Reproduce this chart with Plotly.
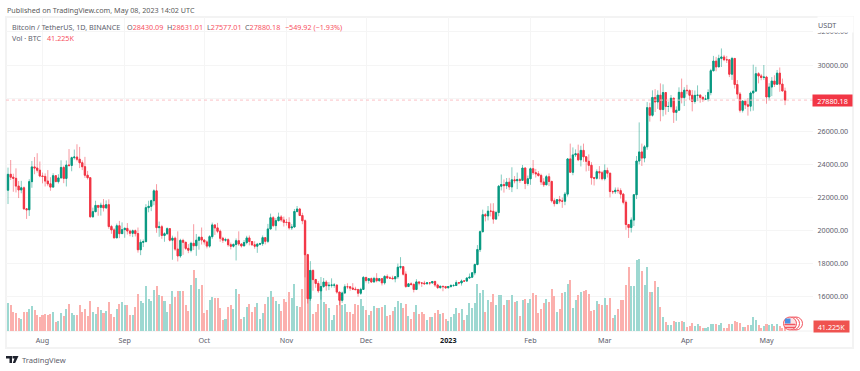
import pandas as pd
import plotly.graph_objects as go

W, H = 860, 371
DATES = pd.date_range("2022-07-19", "2023-05-08", freq="D")

OPEN = [22433,23396,23223,23152,22684,22451,22579,21310,21254,22952,23843,23774,23643,
23293,23268,22988,22818,22622,23312,22954,23175,23810,23149,23954,23934,24403,24441,24305,24094,23854,23342,23191,20834,21140,21515,21399,21529,21368,21559,20241,20037,19555,20285,19811,
20050,20127,19969,19832,19986,19812,18837,19290,19329,21381,21460,21800,22395,20173,20226,19701,19803,20113,19417,19537,18875,18461,19401,19289,18920,18807,19227,19079,19412,19591,
19422,19310,19056,19629,20337,20158,19955,19531,19417,19446,19141,19051,19157,19382,19185,19067,19268,19550,19334,19139,19053,19172,19208,19567,19345,20095,20771,20295,20595,20818,20635,
20495,20485,20159,20209,21148,21299,20905,20591,18541,15880,17586,17034,16799,16353,16618,16884,16662,16692,16700,16700,16280,15781,16226,16603,16599,16522,16458,16428,16212,16442,
17163,16978,17092,16886,17106,16967,17089,16836,17224,17128,17127,17085,17206,17782,17813,17364,16618,16776,16739,16438,16895,16824,16821,16778,16836,16832,16919,16706,16547,16633,16607,
16542,16616,16672,16675,16850,16831,16950,16943,17127,17178,17440,17943,18846,19930,20955,20880,21169,21161,20688,21086,22676,22777,22710,22917,22633,23060,23009,23074,23031,23774,22840,
23125,23732,23491,23431,23326,22932,22762,23249,22963,21797,21625,21862,21783,21773,22199,24324,23518,24569,24631,24271,24841,24452,24182,23940,23186,23158,23555,23492,
23130,23626,23465,22354,22346,22430,22409,22197,21705,20363,20187,20632,22163,24197,24746,24375,25055,27423,26965,28038,27767,28175,27307,28333,27493,27494,27994,27139,27268,28348,28033,
28478,28452,28171,27800,28165,28175,28044,27925,27947,28333,29653,30235,29884,30399,30485,30318,30315,29445,30397,28822,28245,27263,27817,27591,27514,28307,28422,29473,29340,29248,
29268,28068,28669,29026,28838,29507,28848,28430.09]

CLOSE = [23396,23223,23152,22684,22451,22579,21310,21254,22952,23843,23774,23643,23293,
23268,22988,22818,22622,23312,22954,23175,23810,23149,23954,23934,24403,24441,24305,24094,23854,23342,23191,20834,21140,21515,21399,21529,21368,21559,20241,20037,19555,20285,19811,20050,
20127,19969,19832,19986,19812,18837,19290,19329,21381,21460,21800,22395,20173,20226,19701,19803,20113,19417,19537,18875,18461,19401,19289,18920,18807,19227,19079,19412,19591,19422,
19310,19056,19629,20337,20158,19955,19531,19417,19446,19141,19051,19157,19382,19185,19067,19268,19550,19334,19139,19053,19172,19208,19567,19345,20095,20771,20295,20595,20818,20635,20495,
20485,20159,20209,21148,21299,20905,20591,18541,15880,17586,17034,16799,16353,16618,16884,16662,16692,16700,16700,16280,15781,16226,16603,16599,16522,16458,16428,16212,16442,17163,
16978,17092,16886,17106,16967,17089,16836,17224,17128,17127,17085,17206,17782,17813,17364,16618,16776,16739,16438,16895,16824,16821,16778,16836,16832,16919,16706,16547,16633,16607,16542,
16616,16672,16675,16850,16831,16950,16943,17127,17178,17440,17943,18846,19930,20955,20880,21169,21161,20688,21086,22676,22777,22710,22917,22633,23060,23009,23074,23031,23774,22840,23125,
23732,23491,23431,23326,22932,22762,23249,22963,21797,21625,21862,21783,21773,22199,24324,23518,24569,24631,24271,24841,24452,24182,23940,23186,23158,23555,23492,23130,
23626,23465,22354,22346,22430,22409,22197,21705,20363,20187,20632,22163,24197,24746,24375,25055,27423,26965,28038,27767,28175,27307,28333,27493,27494,27994,27139,27268,28348,28033,28478,
28452,28171,27800,28165,28175,28044,27925,27947,28333,29653,30235,29884,30399,30485,30318,30315,29445,30397,28822,28245,27263,27817,27591,27514,28307,28422,29473,29340,29248,29268,
28068,28669,29026,28838,29507,28848,28430.09,27880.18]

HIGH = [23800,24260,23430,23756,22990,23000,22660,21360,23100,24200,24440,24670,24170,
23500,23450,23650,23220,23460,23350,23400,24240,23920,24230,24920,24460,24890,25210,25050,24240,24450,23600,23200,21380,21800,21520,21680,21900,21820,21880,20340,20140,20420,20580,20490,
20200,20450,20050,20060,20060,20180,19460,19460,21590,21800,21860,22490,22800,20540,20340,19890,20190,20100,19690,19630,19950,19500,19500,19310,19180,19320,20380,19790,19650,20180,
19480,19400,19720,20480,20370,20460,20060,19620,19560,19530,19270,19220,19520,19950,19220,19420,19680,19700,19360,19350,19250,19260,19700,19600,20400,21020,20870,20750,21080,20930,20840,
20700,20800,20390,21300,21480,21370,21070,20670,18590,18150,17650,17080,16940,17190,17130,17000,16890,17110,16820,16750,16290,16310,16750,16810,16610,16820,16600,16480,16540,17250,
17200,17100,17160,17200,17420,17110,17130,17300,17350,17230,17270,17240,18000,18390,17850,17530,16800,16870,16820,17060,16900,16870,16960,16870,16860,16950,16970,16780,16660,16640,16650,
16630,16760,16770,16990,16880,17040,16970,17180,17400,17490,18000,19120,20000,21260,21050,21480,21640,21650,21190,22750,23380,23080,23170,23180,23820,23290,23500,23170,23960,23830,23320,
23810,24260,23720,23590,23430,23160,23360,23450,23010,21940,21900,22090,21990,22330,24380,25250,25020,24900,25190,25120,25250,24480,24600,24130,23220,23690,23890,23600,
24000,23800,23480,22420,22600,22600,22550,22270,21820,20370,20790,22180,24500,26530,25250,25170,27760,27720,28470,28540,28470,28890,28830,28370,27790,28190,28020,27500,28650,29180,28660,
28800,28530,28490,28460,28770,28240,28100,28190,28530,29770,30550,30490,30620,31000,30610,30550,30320,30490,30410,29090,28370,27880,27820,28000,28400,30020,29890,29570,29460,30000,
29340,28900,29270,29380,29700,29850,29180,28631.01]

LOW = [21600,23050,22340,22300,21960,22250,21250,20700,20880,22580,23400,23500,23220,
22850,22660,22680,22400,22590,22920,22840,23150,22860,22660,23850,23580,24290,24180,23770,23650,23180,23080,20760,20760,21100,20890,20900,21150,21310,20110,19800,19520,19550,19540,19800,
19560,19760,19650,19600,19640,18660,18510,19000,19290,21100,21170,21530,19860,19620,19500,19320,19750,19340,18230,18770,18130,18350,18530,18820,18630,18680,18820,18470,18840,19150,
19150,18920,18960,19500,19730,19840,19320,19250,19320,19020,18860,18970,18190,19070,18970,19060,19160,19100,19070,18900,18650,19110,19070,19160,19240,20050,20200,20000,20550,20520,20240,
20300,20050,20030,20180,21090,20880,20380,17170,15590,15750,16360,16540,16230,15820,16530,16370,16400,16550,16540,16180,15480,15630,16160,16460,16360,16400,16400,16000,16110,16430,
16860,16790,16860,16880,16870,16910,16680,16730,17080,17090,17070,16870,17080,17660,17280,16530,16580,16670,16260,16400,16690,16590,16750,16760,16700,16790,16590,16470,16490,16330,16470,
16490,16540,16600,16660,16750,16670,16910,16910,17100,17140,17300,17900,18700,19880,20550,20610,20850,20410,20660,20860,22420,22290,22500,22450,22320,22850,22500,22880,23000,22500,22710,
22760,23360,23200,23250,22750,22630,22740,22680,21690,21450,21600,21630,21370,21530,22050,23510,23340,24440,24190,23870,24150,23570,23600,22770,22720,23080,23100,23030,
23020,23200,22000,22200,22210,22240,21930,21580,20040,19550,19880,20270,21900,24000,23900,24120,24880,26580,26880,27160,27350,26600,26900,27000,27160,27380,26500,26630,27230,27680,27520,
28240,27870,27200,27660,27820,27720,27770,27880,27800,28170,29610,29620,29880,29880,30230,30120,29270,29100,28580,27960,27130,27130,27340,26940,27200,27240,28370,28890,29080,29100,
27660,27870,28120,28670,28800,28380,28400,27577.01]

VOLUME_K = [332,308,232,216,156,148,228,224,268,296,252,196,164,188,200,192,200,224,112,116,220,184,268,324,220,196,196,308,224,268,184,356,232,204,284,248,212,236,344,208,168,268,328,348,308,308,188,188,284,448,
364,336,540,388,356,496,540,432,416,356,232,320,480,404,484,480,484,308,240,552,736,636,508,556,212,256,368,408,392,400,276,132,148,288,312,268,504,444,144,172,288,328,232,288,340,148,212,324,412,480,
412,364,324,244,380,352,468,400,568,304,284,500,916,856,736,208,232,328,520,352,328,272,136,196,308,440,308,328,232,232,208,324,316,384,296,256,196,236,296,276,276,284,308,184,196,240,284,356,
336,280,328,184,144,228,316,200,224,200,132,164,164,216,248,204,212,144,124,164,208,276,212,264,136,188,336,280,336,568,460,496,232,368,344,444,316,428,436,316,368,368,436,348,356,184,368,384,336,
388,456,428,212,268,332,388,352,504,424,224,260,452,468,564,616,276,376,436,468,480,492,448,244,252,356,328,308,392,308,400,160,196,260,368,376,556,768,536,540,
848,864,724,548,768,464,464,596,524,284,164,112,72,72,116,104,112,124,104,44,60,100,64,84,56,40,32,48,88,88,88,72,100,36,40,80,84,116,104,100,52,48,72,72,172,132,72,32,56,84,72,88,64,80,60,36,41.225]

MONTH_TICKS = ["2022-08-01","2022-09-01","2022-10-01","2022-11-01","2022-12-01","2023-01-01","2023-02-01","2023-03-01","2023-04-01","2023-05-01"]
MONTH_LABELS = ["Aug","Sep","Oct","Nov","Dec",'<span style="color:#131722"><b>2023</b></span>',"Feb","Mar","Apr","May"]
PRICE_TICKS = [16000,18000,20000,22000,24000,26000,28000,30000,32000]
PRICE_LABELS = ["16000.00","18000.00","20000.00","22000.00","24000.00","26000.00","","30000.00","32000.00"]
LAST_CLOSE = CLOSE[-1]

assert all(len(s) == len(DATES) for s in (OPEN, CLOSE, HIGH, LOW, VOLUME_K)), [len(s) for s in (OPEN, CLOSE, HIGH, LOW, VOLUME_K)]

GREEN, RED = "#089981", "#F23645"
V_GREEN, V_RED = "#9DD8D1", "#FBB0AD"
GREY = "#5d606b"
FONT = "Noto Sans"
FS = 7.2

PANE_L, PANE_R, PANE_T, PANE_B = 6, 813, 17, 331
px = lambda x: x / W
py = lambda y: 1 - y / H

fig = go.Figure()
fig.add_bar(
    x=DATES, y=VOLUME_K, yaxis="y", xaxis="x", width=86400000 * 0.76,
    marker=dict(color=[V_GREEN if c >= o else V_RED for o, c in zip(OPEN, CLOSE)], line_width=0),
    showlegend=False, hoverinfo="skip",
)
# pale full-range candles (wicks), then the solid bodies on top
fig.add_candlestick(
    x=DATES, open=OPEN, high=HIGH, low=LOW, close=CLOSE, yaxis="y2", xaxis="x",
    increasing=dict(line=dict(color="rgba(8,153,129,0.5)", width=1), fillcolor=GREEN),
    decreasing=dict(line=dict(color="rgba(242,54,69,0.5)", width=1), fillcolor=RED),
    showlegend=False, hoverinfo="skip",
)
fig.add_candlestick(
    x=DATES, open=OPEN, close=CLOSE, yaxis="y2", xaxis="x",
    high=[max(o, c) for o, c in zip(OPEN, CLOSE)], low=[min(o, c) for o, c in zip(OPEN, CLOSE)],
    increasing=dict(line=dict(color=GREEN, width=0.8), fillcolor=GREEN),
    decreasing=dict(line=dict(color=RED, width=0.8), fillcolor=RED),
    showlegend=False, hoverinfo="skip",
)

shapes = [
    dict(type="rect", xref="paper", yref="paper", x0=px(6), x1=px(853), y0=py(348), y1=py(17),
         line=dict(color="#f3f3f3", width=2), layer="below"),
    dict(type="line", xref="paper", yref="paper", x0=px(6), x1=px(813), y0=py(331), y1=py(331),
         line=dict(color="#f0f0f0", width=1), layer="below"),
    dict(type="line", xref="paper", yref="y2", x0=px(6), x1=px(813), y0=LAST_CLOSE, y1=LAST_CLOSE,
         line=dict(color="#FBC0C5", width=1, dash="dot"), layer="above"),
    dict(type="path", xref="paper", yref="paper", fillcolor="#1e222d", line_width=0,
         path=f"M {px(6)} {py(356)} L {px(12)} {py(356)} L {px(12)} {py(363)} L {px(9.5)} {py(363)} L {px(9.5)} {py(358.5)} L {px(6)} {py(358.5)} Z"),
    dict(type="path", xref="paper", yref="paper", fillcolor="#1e222d", line_width=0,
         path=f"M {px(12.5)} {py(356)} L {px(18.5)} {py(356)} L {px(15.2)} {py(363)} L {px(12.8)} {py(363)} L {px(14.5)} {py(358.5)} L {px(12.5)} {py(358.5)} Z"),
]
for cx, rad in [(796, 6.5), (793, 6.5)]:
    shapes.append(dict(type="circle", xref="paper", yref="paper", x0=px(cx - rad), x1=px(cx + rad),
                       y0=py(323.5 + rad), y1=py(323.5 - rad), fillcolor="#ffffff",
                       line=dict(color="#F2555F", width=1)))
cx, cy, rad = 790, 323.5, 6.5
shapes.append(dict(type="circle", xref="paper", yref="paper", x0=px(cx - rad), x1=px(cx + rad),
                   y0=py(cy + rad), y1=py(cy - rad), fillcolor="#fde3e4", line=dict(color="#F2555F", width=1)))
for yy in (324.5, 327.5):
    shapes.append(dict(type="line", xref="paper", yref="paper", x0=px(784.5), x1=px(795.5), y0=py(yy), y1=py(yy),
                       line=dict(color="#F2555F", width=1.5)))
shapes.append(dict(type="rect", xref="paper", yref="paper", x0=px(785), x1=px(790.5), y0=py(323.5), y1=py(318.5),
                   fillcolor="#4A90E2", line_width=0))


def note(x, y, text, color=GREY, size=FS, anchor="left", **kw):
    return dict(xref="paper", yref="paper", x=px(x), y=py(y), xanchor=anchor, yanchor="middle",
                text=text, showarrow=False, font=dict(family=FONT, size=size, color=color),
                borderpad=0, **kw)


VAL = "#F7525F"
annotations = [
    note(6, 10, "Published on TradingView.com, May 08, 2023 14:02 UTC", "#5a5a5a"),
    note(11, 27, "Bitcoin / TetherUS, 1D, BINANCE"),
    note(125.5, 27, f'O<span style="color:{VAL}">28430.09</span>'),
    note(165.5, 27, f'H<span style="color:{VAL}">28631.01</span>'),
    note(205.5, 27, f'L<span style="color:{VAL}">27577.01</span>'),
    note(244, 27, f'C<span style="color:{VAL}">27880.18</span>'),
    note(284, 27, "−549.92 (−1.93%)", VAL),
    note(11, 37.5, "Vol · BTC"),
    note(46, 37.5, "41.225K", VAL),
    note(817, 24.5, "USDT", GREY, FS, bgcolor="#ffffff", width=35, height=15, align="left"),
    note(832.5, 100.5, f"{LAST_CLOSE:.2f}", "#ffffff", FS, anchor="center", bgcolor=RED, width=39, height=11),
    note(831, 326, "41.225K", "#ffffff", FS, anchor="center", bgcolor="#EF5350", width=35, height=11),
    note(21, 360, "TradingView", GREY, 7.6),
]

x_left = pd.Timestamp("2022-08-01") - pd.Timedelta(days=(42.5 - PANE_L) / 2.652)
x_right = pd.Timestamp("2022-08-01") + pd.Timedelta(days=(PANE_R - 42.5) / 2.652)
y_per_px = 1000 / 16.55
price_lo = 30000 - (PANE_B - 65) * y_per_px
price_hi = 30000 + (65 - PANE_T) * y_per_px

fig.update_layout(
    width=W, height=H, autosize=False, margin=dict(l=0, r=0, t=0, b=0),
    paper_bgcolor="#ffffff", plot_bgcolor="#ffffff", showlegend=False, bargap=0,
    font=dict(family=FONT, size=FS, color=GREY),
    xaxis=dict(
        type="date", domain=[px(PANE_L), px(PANE_R)], range=[x_left, x_right], anchor="y",
        tickmode="array", tickvals=MONTH_TICKS, ticktext=MONTH_LABELS,
        showgrid=True, gridcolor="#f5f5f5", gridwidth=1, zeroline=False, showline=False,
        ticks="outside", ticklen=2, tickcolor="#ffffff", rangeslider=dict(visible=False),
        tickfont=dict(family=FONT, size=FS, color=GREY),
    ),
    yaxis=dict(domain=[py(PANE_B), py(PANE_T)], range=[0, 3768], visible=False, fixedrange=True),
    yaxis2=dict(
        overlaying="y", side="right", anchor="x", range=[price_lo, price_hi],
        tickmode="array", tickvals=PRICE_TICKS, ticktext=PRICE_LABELS,
        showgrid=True, gridcolor="#f5f5f5", gridwidth=1, zeroline=False, showline=False,
        ticks="outside", ticklen=2, tickcolor="#ffffff",
        tickfont=dict(family=FONT, size=FS, color=GREY),
    ),
    shapes=shapes, annotations=annotations,
)
fig.write_html("out.html", config=dict(displayModeBar=False),
               post_script="document.body.style.margin='0';document.documentElement.style.overflow='hidden';")
